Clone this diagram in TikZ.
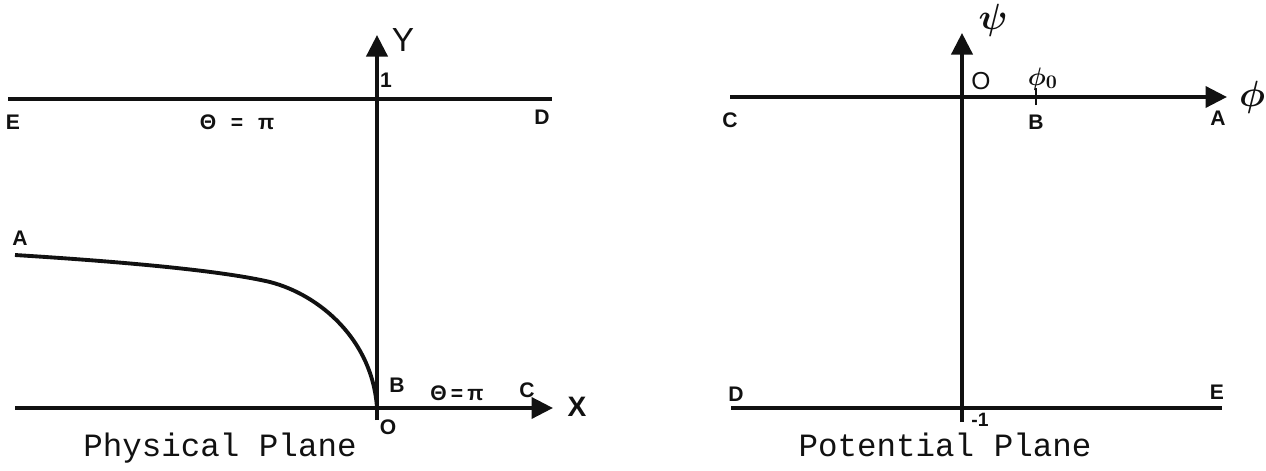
\documentclass[tikz,border=0pt]{standalone}
\usepackage{fontspec}
\setsansfont{Liberation Sans}
\setmonofont{Liberation Mono}
\usepackage{bm}
\usetikzlibrary{arrows.meta}
\definecolor{Ink}{HTML}{111111}

\begin{document}
\begin{tikzpicture}[line width=2.2pt,draw=Ink,
  hand/.style={font=\sffamily\bfseries\fontsize{12}{14}\selectfont,inner sep=0pt,text=Ink},
  bighand/.style={font=\sffamily\fontsize{19}{21}\selectfont,inner sep=0pt,text=Ink},
  greek/.style={font=\fontsize{21}{23}\selectfont\boldmath,inner sep=0pt,text=Ink},
  caption/.style={font=\ttfamily\fontsize{18.5}{22}\selectfont,inner sep=0pt,anchor=base,text=Ink},
  axisarrow/.style={-{Triangle[length=4.3mm,width=4.2mm]}}]
  \useasboundingbox (0,0) rectangle (25.32,9.4);
  \coordinate (XO) at (7.54,1.24);
  \coordinate (XL) at (0.3,1.24);
  \coordinate (XR) at (11.06,1.24);
  \coordinate (YB) at (7.54,1.0);
  \coordinate (YT) at (7.54,8.7);
  \coordinate (TL) at (0.16,7.42);
  \coordinate (TR) at (11.04,7.42);
  \coordinate (A0) at (0.3,4.3);
  \coordinate (AK) at (5.4,3.76);
  \draw (TL) -- (TR);
  \draw[axisarrow] (XL) -- (XR);
  \draw[axisarrow] (YB) -- (YT);
  \draw (A0) .. controls (3.5,4.1) and (4.8,3.9) .. (AK) .. controls (6.4,3.5) and (7.45,2.6) .. (XO);
  \node[bighand] (yname) at (8.06,8.6) {Y};
  \node[hand] (yone) at (7.72,7.8) {1};
  \node[hand] (lE) at (0.26,6.96) {E};
  \node[hand] (ltop) at (4.74,6.96) {Θ\hspace{0.7em}=\hspace{0.7em}π};
  \node[hand] (lD) at (10.84,7.06) {D};
  \node[hand] (lA) at (0.4,4.64) {A};
  \node[hand] (lB) at (7.94,1.7) {B};
  \node[hand] (lbot) at (9.14,1.54) {Θ\hspace{0.2em}=\hspace{0.2em}π};
  \node[hand] (lC) at (10.54,1.6) {C};
  \node[bighand,font=\sffamily\bfseries\fontsize{16}{18}\selectfont] (xname) at (11.54,1.26) {X};
  \node[hand] (lO) at (7.76,0.86) {O};
  \node[caption] (phys) at (4.4,0.28) {Physical Plane};
  \coordinate (PB) at (19.24,0.96);
  \coordinate (PT) at (19.24,8.74);
  \coordinate (QL) at (14.6,7.46);
  \coordinate (QR) at (24.54,7.46);
  \coordinate (RL) at (14.62,1.24);
  \coordinate (RR) at (24.44,1.24);
  \coordinate (K0) at (20.72,7.3);
  \coordinate (K1) at (20.72,7.64);
  \draw[axisarrow] (PB) -- (PT);
  \draw[axisarrow] (QL) -- (QR);
  \draw (RL) -- (RR);
  \draw[line width=1.4pt] (K0) -- (K1);
  \node[greek] (psiname) at (19.86,9.0) {$\bm{\psi}$};
  \node[hand,font=\sffamily\fontsize{14}{16}\selectfont] (rO) at (19.62,7.78) {O};
  \node[greek,font=\fontsize{15}{17}\selectfont\boldmath,anchor=south west] (phizero) at (20.52,7.56) {$\phi_0$};
  \node[hand] (rB) at (20.72,6.96) {B};
  \node[hand] (rA) at (24.36,7.04) {A};
  \node[greek] (phiname) at (25.04,7.46) {$\bm{\phi}$};
  \node[hand] (rC) at (14.6,7.0) {C};
  \node[hand] (rD) at (14.72,1.52) {D};
  \node[hand] (rE) at (24.34,1.56) {E};
  \node[hand,font=\sffamily\bfseries\fontsize{11}{12}\selectfont] (rmone) at (19.6,1.01) {-1};
  \node[caption] (pot) at (18.9,0.28) {Potential Plane};
\end{tikzpicture}
\end{document}
